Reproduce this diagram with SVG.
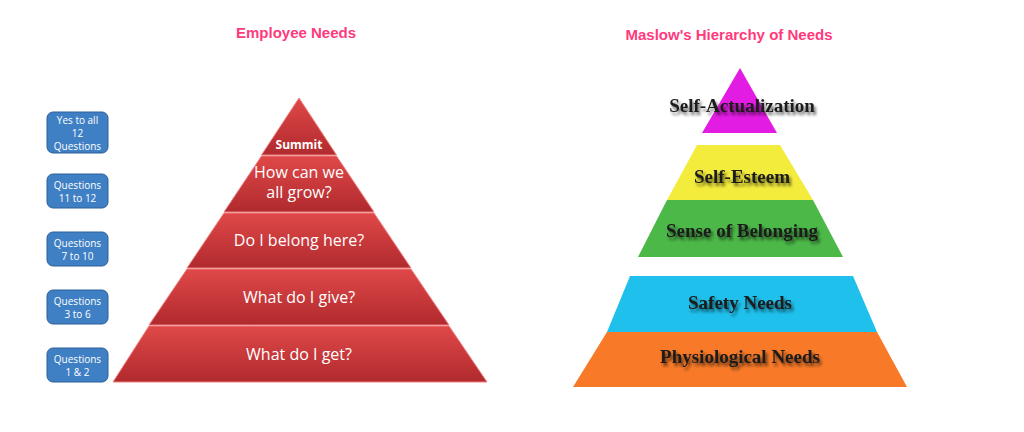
<svg xmlns="http://www.w3.org/2000/svg" width="1024" height="432" viewBox="0 0 1024 432">
<defs>
<linearGradient id="red" x1="0" y1="0" x2="0" y2="1"><stop offset="0" stop-color="#e04848"/><stop offset="1" stop-color="#b02a2e"/></linearGradient>
<filter id="sh" x="-10%" y="-30%" width="130%" height="180%"><feGaussianBlur in="SourceAlpha" stdDeviation="1.5"/><feOffset dx="2" dy="3"/><feComponentTransfer><feFuncA type="linear" slope="0.6"/></feComponentTransfer><feMerge><feMergeNode/><feMergeNode in="SourceGraphic"/></feMerge></filter>
</defs>
<style>
.t{font-family:"Liberation Sans",Arial,sans-serif;font-weight:bold;font-size:15px;fill:#ff3a7c;text-anchor:middle}
.b{fill:#3f80c4;stroke:#2d5f98;stroke-width:1}
.bt{font-family:"Open Sans","DejaVu Sans",sans-serif;font-size:10px;fill:#fff;text-anchor:middle}
.r{fill:url(#red);stroke:#f08080;stroke-width:1}
.rt{font-family:"Open Sans","DejaVu Sans",sans-serif;font-size:16px;fill:#fff;text-anchor:middle}
.m{font-family:"Liberation Serif","Times New Roman",serif;font-weight:bold;font-size:19px;fill:#1a1a1a;text-anchor:middle;filter:url(#sh)}
</style>
<rect width="1024" height="432" fill="#fff"/>
<text class="t" x="296" y="38">Employee Needs</text>
<text class="t" x="729" y="40">Maslow's Hierarchy of Needs</text>
<g id="boxes">
<rect class="b" x="47" y="112" width="61" height="41" rx="6"/><text class="bt" x="77.5" y="124">Yes to all</text><text class="bt" x="77.5" y="137">12</text><text class="bt" x="77.5" y="150">Questions</text>
<rect class="b" x="47" y="174" width="61" height="34" rx="6"/><text class="bt" x="77.5" y="189">Questions</text><text class="bt" x="77.5" y="202">11 to 12</text>
<rect class="b" x="47" y="232" width="61" height="34" rx="6"/><text class="bt" x="77.5" y="247">Questions</text><text class="bt" x="77.5" y="260">7 to 10</text>
<rect class="b" x="47" y="290" width="61" height="34" rx="6"/><text class="bt" x="77.5" y="305">Questions</text><text class="bt" x="77.5" y="318">3 to 6</text>
<rect class="b" x="47" y="348" width="61" height="34" rx="6"/><text class="bt" x="77.5" y="363">Questions</text><text class="bt" x="77.5" y="376">1 &amp; 2</text>
</g>
<g id="employee">
<polygon class="r" points="299,98 336.5,155 261.5,155"/>
<text x="299" y="149" font-family="'Open Sans','DejaVu Sans',sans-serif" font-weight="bold" font-size="12" fill="#fff" text-anchor="middle">Summit</text>
<polygon class="r" points="261.5,156 336.5,156 374,212 224,212"/>
<text class="rt" x="299" y="178">How can we</text><text class="rt" x="299" y="198">all grow?</text>
<polygon class="r" points="224,213 374,213 411,268 187,268"/>
<text class="rt" x="299" y="246">Do I belong here?</text>
<polygon class="r" points="187,269 411,269 449,325 149,325"/>
<text class="rt" x="299" y="303">What do I give?</text>
<polygon class="r" points="149,326 449,326 487,382 113,382"/>
<text class="rt" x="299" y="360">What do I get?</text>
</g>
<g id="maslow">
<polygon points="740,68 777,133 702,133" fill="#e31ce3"/>
<polygon points="697,145 780,145 813,200 667,200" fill="#f4ec3c"/>
<polygon points="667,200 813,200 843,257 638,257" fill="#4cb848"/>
<polygon points="630,276 853,276 877,332 607,332" fill="#1fc0ec"/>
<polygon points="607,332 877,332 907,387 573,387" fill="#f87a28"/>
<text class="m" x="742" y="112">Self-Actualization</text>
<text class="m" x="742" y="183">Self-Esteem</text>
<text class="m" x="742" y="237">Sense of Belonging</text>
<text class="m" x="740" y="309">Safety Needs</text>
<text class="m" x="740" y="363">Physiological Needs</text>
</g>
</svg>
